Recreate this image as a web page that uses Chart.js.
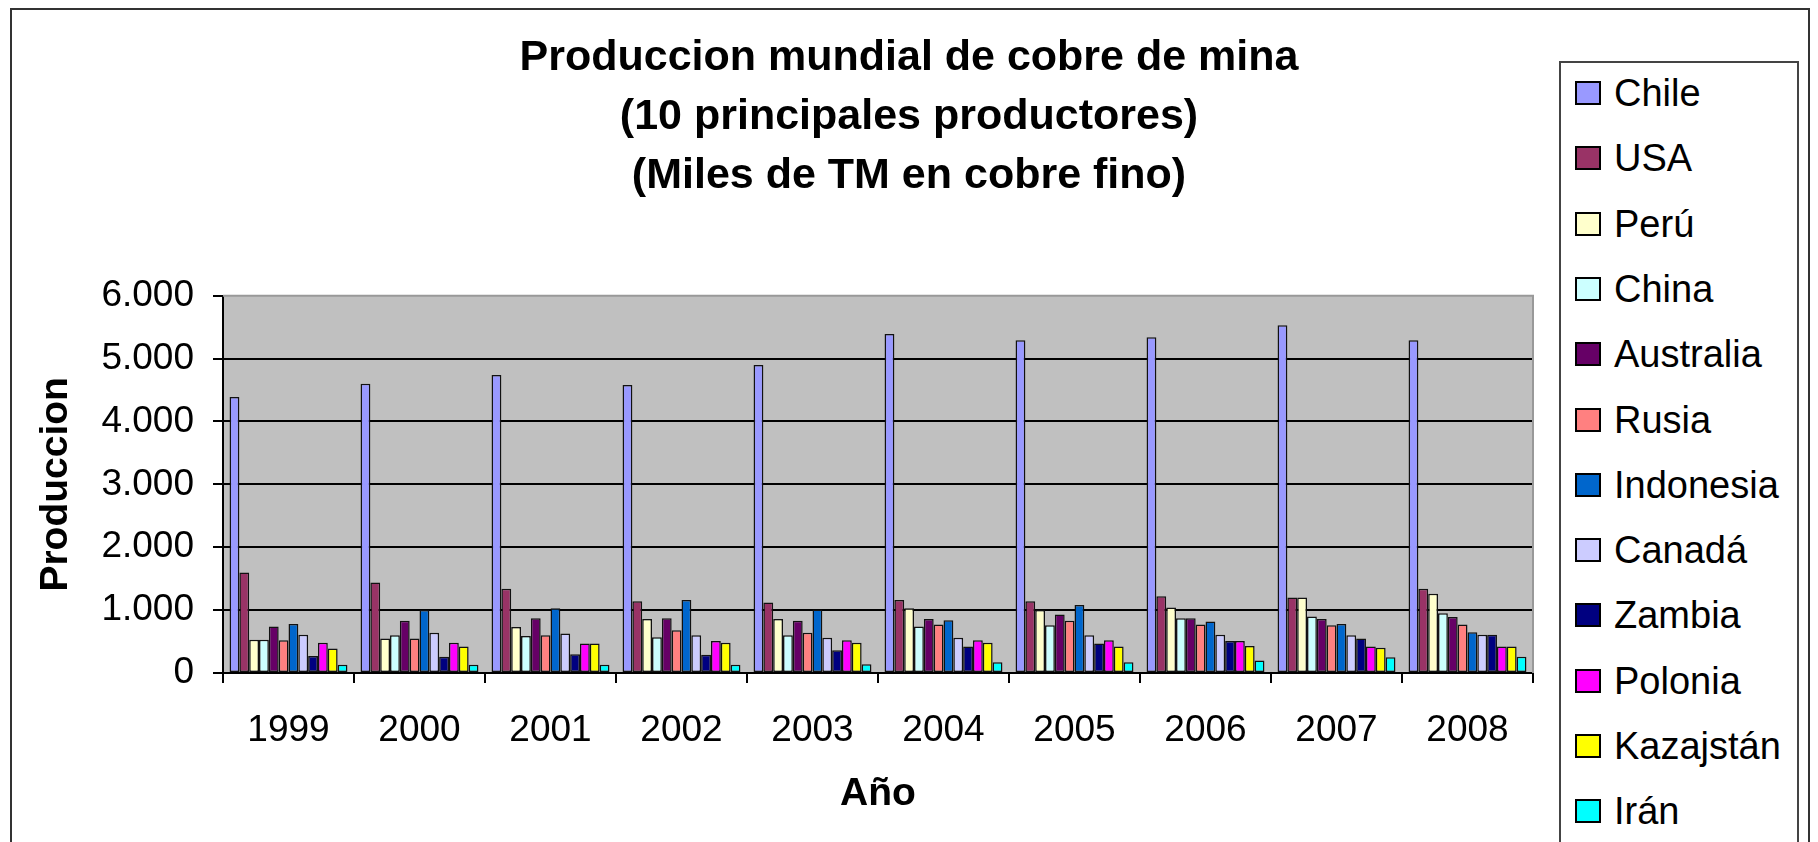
<!DOCTYPE html>
<html>
<head>
<meta charset="utf-8">
<script src="https://cdn.jsdelivr.net/npm/chart.js@4.4.0/dist/chart.umd.min.js"></script>
<style>
  html, body { margin: 0; padding: 0; background: #fff; overflow: hidden; }
  #wrap { position: relative; width: 1818px; height: 842px; }
  #outer { position: absolute; left: 10px; top: 8px; width: 1800px; height: 900px; border: 2px solid #333; box-sizing: border-box; pointer-events: none; }
  #legend { position: absolute; left: 1559px; top: 61px; width: 240px; height: 850px; border: 2px solid #444; box-sizing: border-box; background: #fff; }
  .item { position: absolute; left: 0; height: 40px; font-family: 'Liberation Sans', Arial, sans-serif; font-size: 38px; color: #000; white-space: nowrap; }
  .sw { position: absolute; left: 14px; width: 26px; height: 24px; box-sizing: border-box; border: 2px solid #000; top: 8px; }
  .lt { position: absolute; left: 53px; top: 0; line-height: 40px; }
</style>
</head>
<body>
<div id="wrap">
  <canvas id="c" width="1818" height="842"></canvas>
  <div id="outer"></div>
  <div id="legend"></div>
</div>
<script>
const years = ['1999','2000','2001','2002','2003','2004','2005','2006','2007','2008'];
const countries = ['Chile','USA','Perú','China','Australia','Rusia','Indonesia','Canadá','Zambia','Polonia','Kazajstán','Irán'];
const colors = ['#9999FF','#993366','#FFFFCC','#CCFFFF','#660066','#FF8080','#0066CC','#CCCCFF','#000080','#FF00FF','#FFFF00','#00FFFF'];

const chile     = [4390, 4600, 4740, 4580, 4900, 5390, 5290, 5340, 5530, 5290];
const usa       = [1600, 1440, 1340, 1140, 1120, 1160, 1140, 1220, 1200, 1340];
const peru      = [530, 550, 730, 860, 860, 1030, 1000, 1040, 1200, 1260];
const china     = [530, 600, 590, 570, 600, 740, 760, 870, 900, 950];
const australia = [740, 830, 870, 870, 830, 860, 930, 870, 860, 890];
const rusia     = [520, 550, 600, 680, 640, 770, 830, 770, 760, 770];
const indonesia = [780, 1000, 1030, 1160, 1010, 840, 1080, 820, 780, 650];
const canada    = [610, 640, 630, 600, 560, 560, 600, 610, 600, 610];
const zambia    = [270, 260, 300, 290, 360, 420, 470, 510, 550, 610];
const polonia   = [480, 480, 470, 510, 520, 520, 520, 510, 420, 420];
const kazajstan = [390, 420, 470, 480, 480, 480, 420, 430, 400, 420];
const iran      = [130, 130, 130, 130, 140, 170, 170, 200, 250, 260];

const yTicks = [0, 1000, 2000, 3000, 4000, 5000, 6000];
const titleLines = ['Produccion mundial de cobre de mina', '(10 principales productores)', '(Miles de TM en cobre fino)'];

const series = [chile, usa, peru, china, australia, rusia, indonesia, canada, zambia, polonia, kazajstan, iran];

const FONT = "'Liberation Sans', Arial, sans-serif";

const bgPlugin = {
  id: 'plotbg',
  beforeDraw(chart) {
    const {ctx, chartArea: a} = chart;
    ctx.save();
    ctx.fillStyle = '#C0C0C0';
    ctx.fillRect(a.left, a.top, a.right - a.left, a.bottom - a.top);
    ctx.restore();
  },
  afterDraw(chart) {
    const {ctx, chartArea: a} = chart;
    ctx.save();
    ctx.strokeStyle = '#999';
    ctx.lineWidth = 2;
    ctx.beginPath();
    ctx.moveTo(a.left, a.top);
    ctx.lineTo(a.right, a.top);
    ctx.lineTo(a.right, a.bottom);
    ctx.stroke();
    ctx.restore();
  }
};

const chart = new Chart(document.getElementById('c'), {
  type: 'bar',
  data: {
    labels: years,
    datasets: countries.map((n, i) => ({
      label: n,
      data: series[i],
      backgroundColor: colors[i],
      borderColor: '#111',
      borderWidth: 1.5,
      borderSkipped: false,
      categoryPercentage: 0.9,
      barPercentage: 1.0
    }))
  },
  options: {
    responsive: false,
    animation: false,
    layout: { padding: { left: 0, right: 0, top: 0, bottom: 0 } },
    plugins: {
      legend: { display: false },
      tooltip: { enabled: false },
      title: {
        display: true,
        text: titleLines,
        color: '#000',
        font: { family: FONT, size: 43, weight: 'bold', lineHeight: 1.37 },
        padding: { top: 29, bottom: 90 }
      }
    },
    scales: {
      x: {
        grid: { display: true, drawOnChartArea: false, drawTicks: true, tickLength: 10, tickColor: '#000', lineWidth: 2, offset: true },
        border: { display: true, color: '#000', width: 2 },
        ticks: { color: '#000', font: { family: FONT, size: 37 }, padding: 26, maxRotation: 0, autoSkip: false },
        title: { display: true, text: 'Año', color: '#000', font: { family: FONT, size: 39, weight: 'bold' }, padding: { top: 4, bottom: 24 } },
        afterFit(scale) { scale.height = 169; }
      },
      y: {
        min: 0, max: 6000,
        afterBuildTicks(scale) { scale.ticks = yTicks.map(v => ({ value: v })); },
        grid: { color: ctx => (ctx.tick && ctx.tick.value === 6000) ? 'rgba(0,0,0,0)' : '#000', lineWidth: 2, tickLength: 10, tickColor: '#000' },
        border: { display: true, color: '#000', width: 2 },
        ticks: {
          color: '#000', font: { family: FONT, size: 37 }, padding: 19,
          callback: v => String(v).replace(/\B(?=(\d{3})+(?!\d))/g, '.')
        },
        title: { display: true, text: 'Produccion', color: '#000', font: { family: FONT, size: 39, weight: 'bold' }, padding: { top: 33, bottom: 20 } },
        afterFit(scale) { scale.width = 223; }
      },
      yR: {
        position: 'right',
        display: true,
        min: 0, max: 6000,
        grid: { display: false, drawTicks: false },
        border: { display: false },
        ticks: { display: false },
        afterFit(scale) { scale.width = 285; }
      }
    }
  },
  plugins: [bgPlugin]
});

// HTML legend built from the same arrays
const leg = document.getElementById('legend');
countries.forEach((n, i) => {
  const it = document.createElement('div');
  it.className = 'item';
  it.style.top = (93 + i * 65.3 - 61 - 2 - 20) + 'px';
  const sw = document.createElement('div');
  sw.className = 'sw';
  sw.style.background = colors[i];
  const t = document.createElement('span');
  t.className = 'lt';
  t.textContent = n;
  it.appendChild(sw); it.appendChild(t);
  leg.appendChild(it);
});
</script>
</body>
</html>
